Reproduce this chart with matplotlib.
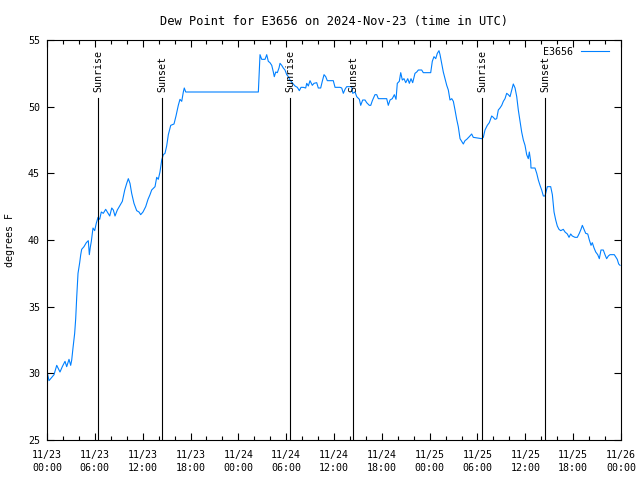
'''
Dew point trace for station E3656, gnuplot look-alike.
'''

import matplotlib
matplotlib.use('Agg')
import matplotlib.pyplot as plt

# hours after 2024-11-23 00:00 UTC
hours = [0.04, 0.25, 0.66, 0.88, 1.22, 1.63, 1.92, 2.26, 2.47, 2.76, 2.97, 3.10, 3.26, 3.47,
         3.60, 3.73, 3.89, 4.10, 4.23, 4.35, 4.64, 4.93, 5.18, 5.31, 5.43, 5.56, 5.77, 5.98,
         6.18, 6.40, 6.61, 6.81, 7.06, 7.36, 7.56, 7.87, 8.12, 8.32, 8.53, 8.82, 9.16, 9.45,
         9.75, 10.00, 10.20, 10.41, 10.62, 10.91, 11.25, 11.54, 11.75, 12.04, 12.38, 12.67,
         12.92, 13.13, 13.55, 13.76, 13.96, 14.17, 14.39, 14.59, 14.80, 15.01, 15.22, 15.52,
         15.93, 16.18, 16.47, 16.68, 16.90, 17.10, 17.22, 17.40, 26.51, 26.72, 26.93, 27.35,
         27.56, 27.76, 27.97, 28.19, 28.39, 28.51, 28.69, 28.89, 29.10, 29.23, 29.44, 29.64,
         29.85, 30.07, 30.27, 30.48, 30.82, 31.11, 31.40, 31.65, 31.86, 32.15, 32.45, 32.58,
         32.78, 32.99, 33.28, 33.49, 33.83, 34.03, 34.33, 34.53, 34.75, 34.96, 35.16, 35.91,
         36.13, 36.75, 36.97, 37.17, 37.38, 37.59, 38.22, 38.35, 38.64, 38.85, 39.18, 39.35,
         39.60, 39.89, 40.10, 40.43, 40.61, 40.81, 41.14, 41.36, 41.56, 42.61, 42.81, 43.03,
         43.31, 43.57, 43.78, 43.94, 44.19, 44.37, 44.57, 44.78, 45.00, 45.25, 45.45, 45.66,
         45.87, 46.16, 46.38, 46.58, 47.00, 47.20, 48.13, 48.33, 48.54, 48.76, 48.96, 49.17,
         49.30, 49.51, 49.71, 49.93, 50.14, 50.34, 50.55, 50.77, 50.97, 51.18, 51.39, 51.59,
         51.81, 52.02, 52.22, 52.43, 52.65, 52.97, 53.27, 53.47, 54.53, 54.73, 54.94, 55.23,
         55.48, 55.78, 55.98, 56.20, 56.41, 56.61, 56.82, 57.04, 57.24, 57.45, 57.66, 57.87,
         58.08, 58.29, 58.49, 58.71, 58.92, 59.12, 59.33, 59.54, 59.75, 59.96, 60.17, 60.37,
         60.50, 60.67, 60.71, 61.21, 61.43, 61.63, 61.84, 62.05, 62.26, 62.47, 62.59, 62.76,
         63.18, 63.39, 63.60, 63.81, 64.01, 64.22, 64.44, 64.76, 64.98, 65.27, 65.48, 65.69,
         65.89, 66.23, 66.52, 66.77, 66.98, 67.15, 67.36, 67.57, 67.83, 68.03, 68.24, 68.40,
         68.62, 68.83, 69.08, 69.28, 69.49, 69.78, 69.99, 70.20, 70.41, 70.62, 71.16, 71.37,
         71.53, 71.71, 71.88]

dewpoint = [30.05, 29.45, 29.75, 29.9, 30.6, 30.1, 30.5, 30.9, 30.5, 31.05, 30.6, 31.0, 31.9, 33.0,
            34.1, 35.75, 37.5, 38.3, 38.9, 39.3, 39.5, 39.8, 39.95, 38.9, 39.45, 39.9, 40.9, 40.7,
            41.25, 41.7, 41.55, 42.1, 42.0, 42.3, 42.1, 41.8, 42.4, 42.25, 41.8, 42.25, 42.6, 42.9,
            43.75, 44.25, 44.6, 44.25, 43.5, 42.75, 42.2, 42.1, 41.9, 42.1, 42.5, 43.05,
            43.4, 43.75, 44.0, 44.7, 44.55, 45.1, 46.0, 46.4, 46.5, 47.05, 47.9, 48.6,
            48.7, 49.3, 50.1, 50.55, 50.4, 51.1, 51.4, 51.1, 51.1, 53.9, 53.55, 53.55,
            53.9, 53.4, 53.3, 53.1, 52.6, 52.25, 52.6, 52.55, 52.9, 53.25, 53.1, 52.9,
            52.75, 52.4, 52.25, 52.0, 51.75, 51.55, 51.45, 51.2, 51.45, 51.45, 51.4, 51.75,
            51.55, 51.95, 51.6, 51.75, 51.8, 51.4, 51.4, 51.9, 52.4, 52.25, 51.95, 51.95,
            51.45, 51.45, 51.4, 51.0, 51.3, 51.5, 51.5, 51.0, 51.1, 50.75, 50.55, 50.1,
            50.5, 50.5, 50.3, 50.1, 50.1, 50.45, 50.9, 50.9, 50.6, 50.6, 50.1, 50.5,
            50.6, 50.9, 50.55, 51.75, 51.9, 52.55, 52.0, 52.1, 51.8, 52.1, 51.75, 52.1,
            51.8, 52.5, 52.6, 52.75, 52.75, 52.55, 52.55, 53.4, 53.75, 53.6, 54.0, 54.2,
            53.9, 53.25, 52.6, 52.1, 51.6, 51.25, 50.5, 50.6, 50.4, 49.75, 49.05, 48.5,
            47.6, 47.4, 47.2, 47.45, 47.55, 47.75, 47.95, 47.7, 47.6, 47.7, 48.25, 48.6,
            48.8, 49.3, 49.2, 49.05, 49.1, 49.75, 49.9, 50.1, 50.4, 50.6, 51.0, 50.9,
            50.75, 51.25, 51.7, 51.4, 50.75, 49.75, 48.9, 48.1, 47.5, 47.1, 46.4, 46.1,
            46.6, 45.9, 45.4, 45.4, 45.0, 44.5, 44.1, 43.75, 43.3, 43.3, 43.6, 44.0,
            44.0, 43.4, 42.1, 41.5, 41.05, 40.8, 40.7, 40.8, 40.6, 40.45, 40.2, 40.45,
            40.3, 40.2, 40.2, 40.5, 40.8, 41.1, 40.8, 40.5, 40.45, 40.0, 39.6, 39.8,
            39.4, 39.1, 38.9, 38.6, 39.25, 39.25, 38.9, 38.6, 38.8, 38.9, 38.9, 38.7,
            38.55, 38.2, 38.1]

sun_hours = [6.44, 14.46, 30.52, 38.43, 54.6, 62.5]
sun_names = ['Sunrise', 'Sunset', 'Sunrise', 'Sunset', 'Sunrise', 'Sunset']

tick_hours = [0, 6, 12, 18, 24, 30, 36, 42, 48, 54, 60, 66, 72]
tick_labels = ['11/23\n00:00', '11/23\n06:00', '11/23\n12:00', '11/23\n18:00',
               '11/24\n00:00', '11/24\n06:00', '11/24\n12:00', '11/24\n18:00',
               '11/25\n00:00', '11/25\n06:00', '11/25\n12:00', '11/25\n18:00',
               '11/26\n00:00']

plt.rcParams['font.family'] = 'DejaVu Sans Mono'
plt.rcParams['font.size'] = 7.2


def dewplot():

    fig = plt.figure(figsize=(6.4, 4.8), dpi=100)
    ax = fig.add_axes([47 / 640, 40 / 480, 574 / 640, 400 / 480])

    ax.plot(hours, dewpoint, color='#0080ff', lw=0.8, label='E3656')

    for h, name in zip(sun_hours, sun_names):
        ax.plot([h, h], [25, 50.65], color='black', lw=0.8)
        ax.text(h, 51.1, name, rotation=90, ha='center', va='bottom')

    ax.set_xlim(0, 72)
    ax.set_ylim(25, 55)
    ax.set_xticks(tick_hours)
    ax.set_xticklabels(tick_labels, linespacing=1.35)
    ax.set_xticks(range(0, 73, 2), minor=True)
    ax.set_yticks(range(25, 56, 5))

    ax.tick_params(which='both', direction='in', top=True, right=True, width=0.8)
    ax.tick_params(which='major', length=5)
    ax.tick_params(which='minor', length=3)
    ax.tick_params(axis='x', pad=7)
    ax.tick_params(axis='y', pad=5)
    for s in ax.spines.values():
        s.set_linewidth(0.8)

    ax.set_title('Dew Point for E3656 on 2024-Nov-23 (time in UTC)', pad=11)
    fig.text(10 / 640, 0.5, 'degrees F', rotation=90, ha='center', va='center')

    ax.legend(loc='upper right', markerfirst=False, frameon=False, handlelength=2.8,
              handletextpad=0.8, borderaxespad=0.3, bbox_to_anchor=(0.992, 1.0))

    plt.savefig('out.png', dpi=100)


if __name__ == "__main__":

    dewplot()
